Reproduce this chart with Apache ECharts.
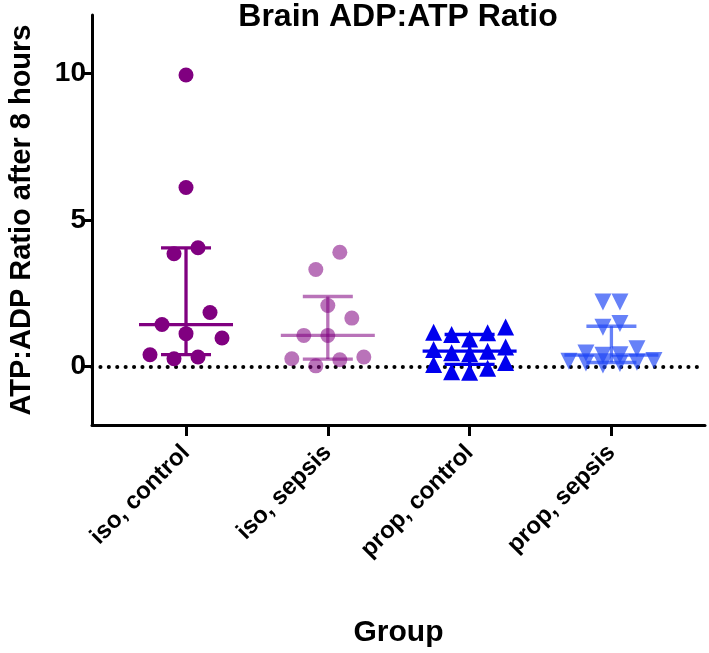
<!DOCTYPE html>
<html><head><meta charset="utf-8">
<script src="https://cdn.jsdelivr.net/npm/echarts@6/dist/echarts.min.js"></script>
<style>html,body{margin:0;padding:0;background:#fff}#c{width:709px;height:653px}</style>
</head><body><div id="c"></div>
<script>
// ---- data ----
const categories = ['iso, control', 'iso, sepsis', 'prop, control', 'prop, sepsis'];
const isoControl = [9.95, 6.11, 3.85, 4.05, 1.84, 1.43, 1.12, 0.97, 0.40, 0.26, 0.32];
const isoSepsis = [3.90, 3.31, 2.08, 1.65, 1.06, 1.06, 0.26, 0.23, 0.32, 0.02];
const propControl = [1.35, 1.17, 1.09, 1.15, 0.94, 0.58, 0.43, 0.47, 0.52, 0.66, 0.13, 0.07, -0.06, -0.18, -0.20];
const propSepsis = [2.20, 2.20, 1.47, 1.34, 0.60, 0.46, 0.40, 0.38, 0.20, 0.18, 0.14, 0.12, 0.10, 0.05];
const yTicks = [0, 5, 10];
const chartTitle = 'Brain ADP:ATP Ratio';
const yName = 'ATP:ADP Ratio after 8 hours';
const xName = 'Group';

// ---- styling ----
const FONT = '"Liberation Sans", Arial, Helvetica, sans-serif';
const groups = [
  {vals: isoControl, symbol: 'circle', size: 15, rot: 0, color: '#800080', spacing: 24, rowPx: 22},
  {vals: isoSepsis, symbol: 'circle', size: 15, rot: 0, color: 'rgba(128,0,128,0.55)', spacing: 24, rowPx: 22},
  {vals: propControl, symbol: 'triangle', size: 17, rot: 0, color: '#0000EE', spacing: 18, rowPx: 13},
  {vals: propSepsis, symbol: 'triangle', size: 17, rot: 180, color: 'rgba(30,70,245,0.68)', spacing: 17, rowPx: 8}
];

function quant(arr, p) { // GraphPad-style percentile
  const s = arr.slice().sort((a, b) => a - b), n = s.length;
  let pos = p * (n + 1);
  if (pos < 1) pos = 1; if (pos > n) pos = n;
  const lo = Math.floor(pos), f = pos - lo;
  return lo >= n ? s[n - 1] : s[lo - 1] + f * (s[lo] - s[lo - 1]);
}

const chart = echarts.init(document.getElementById('c'), null, {renderer: 'canvas'});

function buildSeries(pointData) {
  const series = [];
  groups.forEach((g, gi) => {
    const xc = gi + 1;
    series.push({
      type: 'scatter', symbol: g.symbol, symbolSize: g.size, symbolRotate: g.rot,
      itemStyle: {color: g.color, opacity: 1}, z: 3, silent: true,
      data: pointData ? pointData[gi] : g.vals.map(v => [xc, v]),
      markLine: gi === 0 ? {
        silent: true, symbol: 'none', z: 1,
        label: {show: false},
        lineStyle: {color: '#000', type: [0.1, 8.3], width: 4, cap: 'round'},
        data: [{yAxis: 0}]
      } : undefined
    });
    series.push({
      type: 'custom', z: 4, silent: true,
      data: [[xc, quant(g.vals, 0.25), quant(g.vals, 0.5), quant(g.vals, 0.75)]],
      renderItem: (params, api) => {
        const x = api.value(0);
        const lo = api.coord([x, api.value(1)]);
        const md = api.coord([x, api.value(2)]);
        const hi = api.coord([x, api.value(3)]);
        const st = {stroke: g.color, lineWidth: 3.3, fill: null};
        const ln = (x1, y1, x2, y2) => ({type: 'line', shape: {x1, y1, x2, y2}, style: st});
        return {type: 'group', children: [
          ln(lo[0], lo[1], hi[0], hi[1]),
          ln(lo[0] - 25, lo[1], lo[0] + 25, lo[1]),
          ln(hi[0] - 25, hi[1], hi[0] + 25, hi[1]),
          ln(md[0] - 47, md[1], md[0] + 47, md[1])
        ]};
      }
    });
  });
  return series;
}

const option = {
  animation: false,
  backgroundColor: '#fff',
  title: {
    text: chartTitle, left: 398, top: 1, padding: 0, textAlign: 'center',
    textStyle: {fontFamily: FONT, fontSize: 32, fontWeight: 'bold', color: '#000'}
  },
  grid: {left: 92, right: 4, top: 15, bottom: 228, containLabel: false, outerBoundsMode: 'none'},
  xAxis: {
    type: 'value', min: 0.337, max: 4.66,
    splitLine: {show: false},
    axisLine: {show: true, onZero: false, lineStyle: {color: '#000', width: 3}},
    axisTick: {show: true, customValues: [1, 2, 3, 4], length: 11, lineStyle: {color: '#000', width: 3}},
    axisLabel: {
      customValues: [1, 2, 3, 4], formatter: v => categories[Math.round(v) - 1] || '',
      rotate: 45, margin: 24, color: '#000', fontFamily: FONT, fontSize: 24, fontWeight: 'bold'
    },
    name: xName, nameLocation: 'middle', nameGap: 193,
    nameTextStyle: {fontFamily: FONT, fontSize: 30, fontWeight: 'bold', color: '#000'}
  },
  yAxis: {
    type: 'value', min: -2, max: 12,
    splitLine: {show: false},
    axisLine: {show: true, onZero: false, lineStyle: {color: '#000', width: 3}},
    axisTick: {show: true, customValues: yTicks, length: 9, lineStyle: {color: '#000', width: 3}},
    axisLabel: {customValues: yTicks, margin: 6, color: '#000', fontFamily: FONT, fontSize: 28, fontWeight: 'bold'},
    name: yName, nameLocation: 'middle', nameGap: 56, nameRotate: 90,
    nameTextStyle: {fontFamily: FONT, fontSize: 29, fontWeight: 'bold', color: '#000'}
  },
  series: buildSeries(null)
};
chart.setOption(option);

// beeswarm layout (GraphPad-like rows) computed through the chart's own scales
function swarm(vals, xc, SPACING, ROW_PX) {
  const cx = chart.convertToPixel({gridIndex: 0}, [xc, 0])[0];
  const pts = vals.map(v => ({v, py: chart.convertToPixel({gridIndex: 0}, [xc, v])[1]}));
  pts.sort((a, b) => a.v - b.v);
  const out = [];
  let i = 0;
  while (i < pts.length) {
    const row = [pts[i]];
    let j = i + 1;
    while (j < pts.length && pts[i].py - pts[j].py <= ROW_PX) { row.push(pts[j]); j++; }
    const n = row.length;
    row.forEach((p, k) => {
      let off;
      if (n % 2) { off = k === 0 ? 0 : (k % 2 ? -1 : 1) * Math.ceil(k / 2) * SPACING; }
      else { off = (k % 2 ? 1 : -1) * (Math.floor(k / 2) + 0.5) * SPACING; }
      out.push([chart.convertFromPixel({gridIndex: 0}, [cx + off, p.py])[0], p.v]);
    });
    i = j;
  }
  return out;
}
const pointData = groups.map((g, gi) => swarm(g.vals, gi + 1, g.spacing, g.rowPx));
chart.setOption({series: buildSeries(pointData)});
</script>
</body></html>
